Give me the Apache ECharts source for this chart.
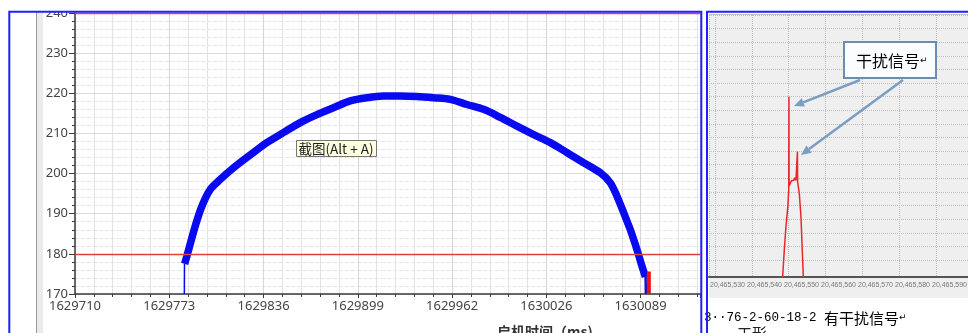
<!DOCTYPE html>
<html>
<head>
<meta charset="utf-8">
<script src="https://cdn.jsdelivr.net/npm/echarts@6/dist/echarts.min.js"></script>
<style>
html, body { margin: 0; padding: 0; background: #fff; }
#main { width: 968px; height: 333px; }
</style>
</head>
<body>
<div id="main"></div>
<script>
// left chart: start-up time (ms) vs value, thick blue band
var bandTime = [1629783.5, 1629784.9, 1629790.5, 1629795.0, 1629800.6, 1629807.3, 1629816.2,
    1629826.3, 1629838.6, 1629849.7, 1629861.0, 1629872.2, 1629883.3, 1629894.5, 1629905.7,
    1629916.8, 1629928.0, 1629939.2, 1629950.4, 1629961.6, 1629972.8, 1629983.9, 1629995.1,
    1630006.3, 1630017.5, 1630028.7, 1630039.9, 1630051.0, 1630062.2, 1630068.9, 1630073.4,
    1630077.9, 1630082.3, 1630086.8, 1630090.2, 1630092.4];
var bandValue = [177.5, 179.3, 186.8, 191.8, 196.0, 198.5, 201.4,
    204.3, 207.7, 210.2, 212.7, 214.7, 216.4, 218.1, 218.9,
    219.3, 219.3, 219.2, 218.9, 218.5, 217.2, 216.0, 214.0,
    211.8, 209.7, 207.7, 205.2, 202.7, 200.2, 197.7, 194.3,
    190.2, 186.0, 181.0, 176.8, 174.3];
var leadTime = [1629783.3, 1629783.4];
var leadValue = [170, 177.6];
var tailTime = [1630092.5, 1630092.7];
var tailValue = [175.0, 170];
var redTailTime = [1630094.7, 1630094.7];
var redTailValue = [175.6, 170];
var limitLines = [180, 240];

// right picture: interference signal
var noiseX = [20465544.9, 20465545.35, 20465545.8, 20465546.3, 20465546.55, 20465546.6, 20465546.65,
    20465546.9, 20465547.3, 20465547.9, 20465548.2, 20465548.5, 20465548.85, 20465548.9,
    20465548.95, 20465549.4, 20465549.86, 20465550.2, 20465550.5];
var noiseY = [0, 1.96, 3.65, 5.1, 6.3, 13.07, 6.6,
    6.6, 7.0, 7.0, 7.2, 7.0, 7.0, 9.09,
    6.9, 6.07, 4.37, 1.96, 0];

function pairs(xs, ys) {
    return xs.map(function (x, i) { return [x, ys[i]]; });
}

function arrow(x1, y1, x2, y2) {
    var dx = x2 - x1, dy = y2 - y1;
    var len = Math.sqrt(dx * dx + dy * dy);
    var ux = dx / len, uy = dy / len;
    var bx = x2 - ux * 10, by = y2 - uy * 10;
    return [
        { type: 'line', z: 50, shape: { x1: x1, y1: y1, x2: bx, y2: by },
          style: { stroke: '#7b9dc2', lineWidth: 2.5 } },
        { type: 'polygon', z: 50,
          shape: { points: [[x2, y2], [bx - uy * 4.5, by + ux * 4.5], [bx + uy * 4.5, by - ux * 4.5]] },
          style: { fill: '#7b9dc2' } }
    ];
}

var chart = echarts.init(document.getElementById('main'));
var axisColor = '#3a3a3a';
var gridDot = { color: '#bdbdbd', type: 'dotted', width: 1 };

var graphics = [
    { type: 'rect', z: -10, shape: { x: 709, y: 14, width: 259, height: 284 }, style: { fill: '#efefef' } },
    { type: 'line', z: -5, shape: { x1: 709, y1: 14.5, x2: 968, y2: 14.5 }, style: { stroke: '#c2c2c2', lineWidth: 1 } },
    { type: 'rect', z: 1, shape: { x: 37, y: 12, width: 6, height: 321 }, style: { fill: '#ebebeb' } },
    { type: 'line', z: 1, shape: { x1: 36.5, y1: 12, x2: 36.5, y2: 333 }, style: { stroke: '#9a9a9a', lineWidth: 1 } },
    { type: 'rect', z: 100, shape: { x: 0, y: 0, width: 968, height: 11 }, style: { fill: '#ffffff' } },
    { type: 'rect', z: 101, shape: { x: 9.3, y: 11.8, width: 692, height: 340 },
      style: { fill: 'none', stroke: '#1f1fff', lineWidth: 2 } },
    { type: 'rect', z: 101, shape: { x: 707, y: 11.8, width: 300, height: 340 },
      style: { fill: 'none', stroke: '#1f1fff', lineWidth: 2 } },
    // screenshot tooltip
    { type: 'rect', z: 60, shape: { x: 296.5, y: 140.5, width: 80, height: 16 },
      style: { fill: '#ffffe1', stroke: '#767676', lineWidth: 1 } },
    { type: 'text', z: 61, x: 298.5, y: 148.5,
      style: { text: '截图(Alt + A)', fill: '#222', font: '13.5px "Noto Sans CJK SC"', verticalAlign: 'middle' } },
    // axis title, cut off at the bottom
    { type: 'text', z: 60, x: 497, y: 325,
      style: { text: '启机时间（ms)', fill: '#333', font: 'bold 14px "Noto Sans CJK SC"', verticalAlign: 'top' } },
    // callout
    { type: 'rect', z: 52, shape: { x: 844, y: 42, width: 92, height: 36 },
      style: { fill: '#fbfcfe', stroke: '#6a8cb0', lineWidth: 2 } },
    { type: 'text', z: 53, x: 856, y: 61,
      style: { text: '{a|干扰信号}{b|↵}', verticalAlign: 'middle',
        rich: { a: { fontFamily: 'Noto Sans CJK SC', fontSize: 16, color: '#222' },
                b: { fontFamily: 'DejaVu Sans', fontSize: 9, color: '#888' } } } },
    // caption under right picture
    { type: 'text', z: 60, x: 704, y: 318,
      style: { text: '{m|3··76-2-60-18-2 }{c|有干扰信号}{r|↵}', verticalAlign: 'middle',
        rich: { m: { fontFamily: 'Liberation Mono', fontSize: 12.5, color: '#222' },
                c: { fontFamily: 'Noto Sans CJK SC', fontSize: 15, color: '#222' },
                r: { fontFamily: 'DejaVu Sans', fontSize: 9, color: '#888' } } } },
    { type: 'text', z: 60, x: 737, y: 326,
      style: { text: '工形', fill: '#222', font: '15px "Noto Sans CJK SC"', verticalAlign: 'top' } }
].concat(arrow(860, 80, 794, 106), arrow(903, 80, 801, 155));

var option = {
    animation: false,
    backgroundColor: '#ffffff',
    grid: [
        { left: 75, right: 268, top: 13, bottom: 39, outerBoundsMode: 'none', containLabel: false },
        { left: 709, right: 0, top: 15, bottom: 56, outerBoundsMode: 'none', containLabel: false },
        { left: 709, right: 0, top: 15, bottom: 73, outerBoundsMode: 'none', containLabel: false }
    ],
    xAxis: [
        {
            type: 'value', gridIndex: 0, min: 1629710, max: 1630129, interval: 63.2,
            axisLine: { show: true, onZero: false, lineStyle: { color: axisColor, width: 1.5 } },
            axisTick: { show: true, length: 4, lineStyle: { color: axisColor } },
            minorTick: { show: true, splitNumber: 5, length: 3, lineStyle: { color: axisColor } },
            axisLabel: {
                margin: 6, color: '#444', fontSize: 13, fontFamily: 'Noto Sans',
                showMaxLabel: false, hideOverlap: false,
                formatter: function (v) { return String(Math.floor(v + 0.01)); }
            },
            splitLine: { show: true, lineStyle: { color: '#d6d6d6', width: 1 } },
            minorSplitLine: { show: true, lineStyle: { color: '#e3e3e3', width: 1 } }
        },
        {
            type: 'value', gridIndex: 1, min: 20465525, max: 20465595, splitNumber: 7,
            axisLine: { show: true, onZero: false, lineStyle: { color: '#555', width: 2 } },
            axisTick: { show: false },
            axisLabel: {
                margin: 5, color: '#777', fontSize: 7, fontFamily: 'Liberation Sans',
                showMinLabel: false, showMaxLabel: false, hideOverlap: false,
                formatter: function (v) { return String(Math.round(v)).replace(/\B(?=(\d{3})+(?!\d))/g, ','); }
            },
            splitLine: { show: false }
        },
        {
            type: 'value', gridIndex: 1, min: -1.62, max: 68.6, splitNumber: 7,
            axisLine: { show: false }, axisTick: { show: false }, axisLabel: { show: false },
            splitLine: { show: true, lineStyle: gridDot }
        },
        { type: 'value', gridIndex: 2, min: 0, max: 1, show: false }
    ],
    yAxis: [
        {
            type: 'value', gridIndex: 0, min: 170, max: 240, interval: 10,
            axisLine: { show: true, onZero: false, lineStyle: { color: axisColor, width: 1.5 } },
            axisTick: { show: true, length: 6, lineStyle: { color: axisColor } },
            minorTick: { show: true, splitNumber: 5, length: 3, lineStyle: { color: axisColor } },
            axisLabel: { margin: 7, color: '#444', fontSize: 13, fontFamily: 'Noto Sans', hideOverlap: false },
            splitLine: { show: true, lineStyle: { color: '#dcdcdc', width: 1 } },
            minorSplitLine: { show: true, lineStyle: { color: '#e6e6e6', width: 1, type: 'dashed' } }
        },
        { type: 'value', gridIndex: 1, min: 0, max: 19, show: false },
        {
            type: 'value', gridIndex: 2, min: 0, max: 18, interval: 1,
            axisLine: { show: false }, axisTick: { show: false }, axisLabel: { show: false },
            splitLine: { show: true, lineStyle: gridDot }
        }
    ],
    series: [
        {
            type: 'line', xAxisIndex: 0, yAxisIndex: 0, z: 3,
            data: pairs(bandTime, bandValue), showSymbol: false, silent: true,
            smooth: 0.3,
            lineStyle: { color: '#0a0af0', width: 7.5, cap: 'butt' },
            markLine: {
                silent: true, symbol: 'none', label: { show: false },
                lineStyle: { color: '#e0413f', width: 1.3, type: 'solid' },
                data: limitLines.map(function (v) { return { yAxis: v }; })
            }
        },
        {
            type: 'line', xAxisIndex: 0, yAxisIndex: 0, z: 3,
            data: pairs(leadTime, leadValue), showSymbol: false, silent: true,
            lineStyle: { color: '#0a0af0', width: 1.5 }
        },
        {
            type: 'line', xAxisIndex: 0, yAxisIndex: 0, z: 3,
            data: pairs(tailTime, tailValue), showSymbol: false, silent: true,
            lineStyle: { color: '#0a0af0', width: 2.5 }
        },
        {
            type: 'line', xAxisIndex: 0, yAxisIndex: 0, z: 4,
            data: pairs(redTailTime, redTailValue), showSymbol: false, silent: true,
            lineStyle: { color: '#ee1111', width: 4, cap: 'butt' }
        },
        {
            type: 'line', xAxisIndex: 1, yAxisIndex: 1, z: 3,
            data: pairs(noiseX, noiseY), showSymbol: false, silent: true,
            lineStyle: { color: '#e8262b', width: 1.5 }
        }
    ],
    graphic: { elements: graphics }
};
chart.setOption(option);
</script>
</body>
</html>
